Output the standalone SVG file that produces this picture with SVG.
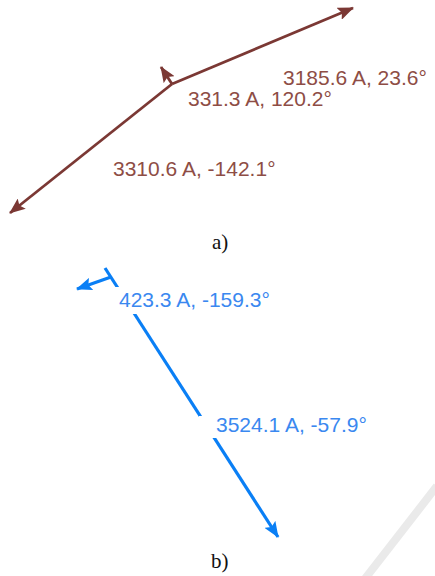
<svg xmlns="http://www.w3.org/2000/svg" width="435" height="576" viewBox="0 0 435 576">
<style>
.bl{stroke:#7b3834;stroke-width:2.8;fill:none}
.ul{stroke:#0a7ff5;stroke-width:3.2;fill:none}
.bt{font-family:"Liberation Sans",Arial,sans-serif;font-size:21px;fill:#8e4d45}
.ut{font-family:"Liberation Sans",Arial,sans-serif;font-size:21px;fill:#3a88f0}
.cap{font-family:"Liberation Serif","Times New Roman",serif;font-size:21px;fill:#111}
</style>
<defs>
<marker id="hb" viewBox="0 0 16 13" refX="15" refY="6.5" markerWidth="16" markerHeight="13" markerUnits="userSpaceOnUse" orient="auto"><path d="M0,0 L16,6.5 L0,13 L3,6.5 z" fill="#7b3834"/></marker>
<marker id="hu" viewBox="0 0 16 13" refX="15" refY="6.5" markerWidth="16" markerHeight="13" markerUnits="userSpaceOnUse" orient="auto"><path d="M0,0 L16,6.5 L0,13 L3,6.5 z" fill="#0a7ff5"/></marker>
</defs>
<rect width="435" height="576" fill="#fff"/>
<line x1="364" y1="580" x2="437" y2="486" stroke="#eaeaea" stroke-width="8"/>
<g id="connectors">
<line class="bl" x1="172" y1="84" x2="353" y2="8" marker-end="url(#hb)"/>
<line class="bl" x1="172" y1="84" x2="10" y2="213" marker-end="url(#hb)"/>
<line class="bl" x1="172" y1="84" x2="161" y2="67" marker-end="url(#hb)"/>
<line class="ul" x1="105" y1="268" x2="278" y2="537" marker-end="url(#hu)"/>
<line class="ul" x1="111" y1="277" x2="77" y2="289" marker-end="url(#hu)"/>
</g>
<g id="label-a1"><text class="bt" x="283" y="85">3185.6 A, 23.6°</text></g>
<g id="label-a2"><text class="bt" x="188" y="106">331.3 A, 120.2°</text></g>
<g id="label-a3"><text class="bt" x="113" y="176">3310.6 A, -142.1°</text></g>
<g id="caption-a"><text class="cap" x="212" y="249">a)</text></g>
<g id="label-b1"><rect x="113" y="287" width="164" height="27" fill="#fff"/><text class="ut" x="119" y="307">423.3 A, -159.3°</text></g>
<g id="label-b2"><rect x="199" y="416" width="178" height="22" fill="#fff"/><text class="ut" x="216" y="432">3524.1 A, -57.9°</text></g>
<g id="caption-b"><text class="cap" x="211" y="568">b)</text></g>
</svg>
